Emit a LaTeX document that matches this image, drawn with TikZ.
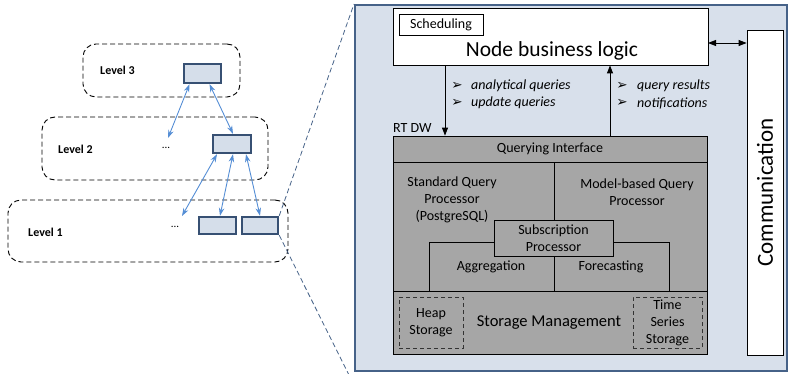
\documentclass[tikz,border=0pt]{standalone}
\usepackage{fontspec}
\setmainfont{Carlito}
\newfontfamily\dingfont{DejaVu Sans}
\usetikzlibrary{arrows.meta}

\definecolor{panelfill}{RGB}{216,224,235}
\definecolor{panelline}{RGB}{70,98,136}
\definecolor{nodefill}{RGB}{213,222,234}
\definecolor{nodeline}{RGB}{55,80,115}
\definecolor{linkblue}{RGB}{85,142,213}
\definecolor{grayfill}{RGB}{166,166,166}

\tikzset{
  levelbox/.style={draw=black, dashed, dash pattern=on 5pt off 3pt, line width=0.9pt,
    rounded corners=13pt, inner sep=0pt},
  unitbox/.style={draw=nodeline, fill=nodefill, line width=2.4pt, inner sep=0pt},
  levellabel/.style={font=\fontsize{12}{14}\selectfont\bfseries, inner sep=0pt, anchor=west},
  dotslabel/.style={font=\fontsize{11}{13}\selectfont, inner sep=0pt},
  link/.style={draw=linkblue, line width=0.9pt,
    {Stealth[length=8pt,width=5.5pt]}-{Stealth[length=8pt,width=5.5pt]}},
  zoomline/.style={draw=panelline, dashed, dash pattern=on 5pt off 3pt, line width=0.8pt},
  whitebox/.style={draw=black, fill=white, line width=0.8pt, inner sep=0pt},
  graybox/.style={draw=black, fill=grayfill, line width=0.8pt, inner sep=0pt},
  plainbox/.style={draw=black, line width=0.8pt, inner sep=0pt},
  storebox/.style={draw=black!80, dashed, dash pattern=on 4pt off 3pt, line width=0.9pt, inner sep=0pt},
  txt/.style={font=\fontsize{14}{17}\selectfont, inner sep=0pt, align=center},
  itxt/.style={font=\fontsize{14}{17}\selectfont\itshape, inner sep=0pt, anchor=west},
  bullet/.style={font=\dingfont\fontsize{13.5}{15}\selectfont, inner sep=0pt},
  flow/.style={draw=black, line width=0.9pt, -{Triangle[length=8pt,width=6pt]}},
  bothflow/.style={draw=black, line width=0.9pt,
    {Triangle[length=8pt,width=6pt]}-{Triangle[length=8pt,width=6pt]}},
}

\begin{document}
\begin{tikzpicture}[x=1pt, y=-1pt]
\useasboundingbox (0,0) rectangle (791,374);

% ---------- hierarchy of levels ----------
\node[levelbox, minimum width=157pt, minimum height=53pt] (lv3) at (161.5,70.5) {};
\node[levelbox, minimum width=226pt, minimum height=63pt] (lv2) at (155,148.5) {};
\node[levelbox, minimum width=280pt, minimum height=62pt] (lv1) at (148,231) {};

\node[levellabel] (lv3txt) at (100,70) {Level 3};
\node[levellabel] (lv2txt) at (58,149) {Level 2};
\node[levellabel] (lv1txt) at (28,232) {Level 1};

\node[unitbox, minimum width=37pt, minimum height=19pt] (u3) at (202.5,73.5) {};
\node[unitbox, minimum width=38pt, minimum height=18pt] (u2) at (232,144) {};
\node[unitbox, minimum width=37pt, minimum height=17pt] (u1a) at (217.5,225.5) {};
\node[unitbox, minimum width=36pt, minimum height=17pt] (u1b) at (260,225.5) {};

\node[dotslabel] (dots2) at (166,148) {...};
\node[dotslabel] (dots1) at (175,227) {...};

\coordinate (free2) at (168,138);
\coordinate (free1) at (182,216);

\path[link] ([xshift=-13pt]u3.south) -- (free2);
\path[link] ([xshift=7pt]u3.south) -- ([xshift=1pt]u2.north);
\path[link] ([xshift=-15pt]u2.south) -- (free1);
\path[link] ([xshift=1pt]u2.south) -- ([xshift=2.5pt]u1a.north);
\path[link] ([xshift=14pt]u2.south) -- (u1b.north);

% ---------- node internals ----------
\node[draw=panelline, fill=panelfill, line width=2pt, inner sep=0pt,
      minimum width=432pt, minimum height=366pt] (panel) at (571,188) {};

\path[zoomline] (u1b.north east) -- (panel.north west);
\path[zoomline] (u1b.south east) -- ([yshift=-13pt]panel.south west);

\node[whitebox, minimum width=315pt, minimum height=57pt] (logic) at (550.5,36.5) {};
\node[txt, font=\fontsize{21.5}{25}\selectfont] (logictxt) at (552,51) {Node business logic};
\node[plainbox, minimum width=84pt, minimum height=21pt] (sched) at (441,24.5) {};
\node[txt] (schedtxt) at (sched.center) {Scheduling};

\node[whitebox, minimum width=36pt, minimum height=325pt] (comm) at (765,192.5) {};
\node[txt, font=\fontsize{23}{27}\selectfont, rotate=90] (commtxt) at (comm.center) {Communication};

\coordinate (c1) at (708,43);
\path[bothflow] (c1) -- (c1 -| comm.west);

% data warehouse block
\node[graybox, minimum width=314pt, minimum height=218pt] (rtdw) at (550,245) {};
\node[inner sep=0pt, anchor=west, font=\fontsize{14}{17}\selectfont] (rtdwtxt) at (393,128.5) {RT DW};

\coordinate (down) at (445,0);
\coordinate (up) at (610,0);
\path[flow] (down |- logic.south) -- (down |- rtdw.north);
\path[flow] (up |- rtdw.north) -- (up |- logic.south);

\node[bullet] (b1) at (457,86) {➢};
\node[itxt] (q1) at (471,86) {analytical queries};
\node[bullet] (b2) at (457,103) {➢};
\node[itxt] (q2) at (471,103) {update queries};
\node[bullet] (b3) at (622,86) {➢};
\node[itxt] (r1) at (637,86) {query results};
\node[bullet] (b4) at (622,103) {➢};
\node[itxt] (r2) at (637,103) {notifications};

% querying interface strip
\node[plainbox, minimum width=314pt, minimum height=26pt] (qi) at (550,149) {};
\node[txt] (qitxt) at (qi.center) {Querying Interface};

% storage strip
\node[plainbox, minimum width=314pt, minimum height=63pt] (store) at (550,322.5) {};
\node[txt, font=\fontsize{16.5}{20}\selectfont] (storetxt) at (549,322.5) {Storage Management};
\node[storebox, minimum width=64pt, minimum height=51pt] (heap) at (431,322.5) {};
\node[txt] (heaptxt) at (heap.center) {Heap\\Storage};
\node[storebox, minimum width=69pt, minimum height=51pt] (ts) at (667.5,322.5) {};
\node[txt] (tstxt) at (ts.center) {Time\\Series\\Storage};

% processors
\node[plainbox, minimum width=119pt, minimum height=36pt] (sub) at (553.5,238) {};
\node[txt] (subtxt) at (sub.center) {Subscription\\Processor};
\coordinate (mid) at (554,0);
\draw[line width=0.8pt] (mid |- qi.south) -- (mid |- sub.north);
\draw[line width=0.8pt] (mid |- sub.south) -- (mid |- store.north);

\coordinate (aggl) at (429,242);
\coordinate (aggr) at (669,242);
\draw[line width=0.8pt] (aggl |- store.north) -- (aggl) -- (aggl -| sub.west);
\draw[line width=0.8pt] (aggr -| sub.east) -- (aggr) -- (aggr |- store.north);

\node[txt] (stdtxt) at (452,200) {Standard Query\\Processor\\(PostgreSQL)};
\node[txt] (modtxt) at (637,192.5) {Model-based Query\\Processor};
\node[txt] (aggtxt) at (491,267) {Aggregation};
\node[txt] (fortxt) at (611,267) {Forecasting};

\end{tikzpicture}
\end{document}
